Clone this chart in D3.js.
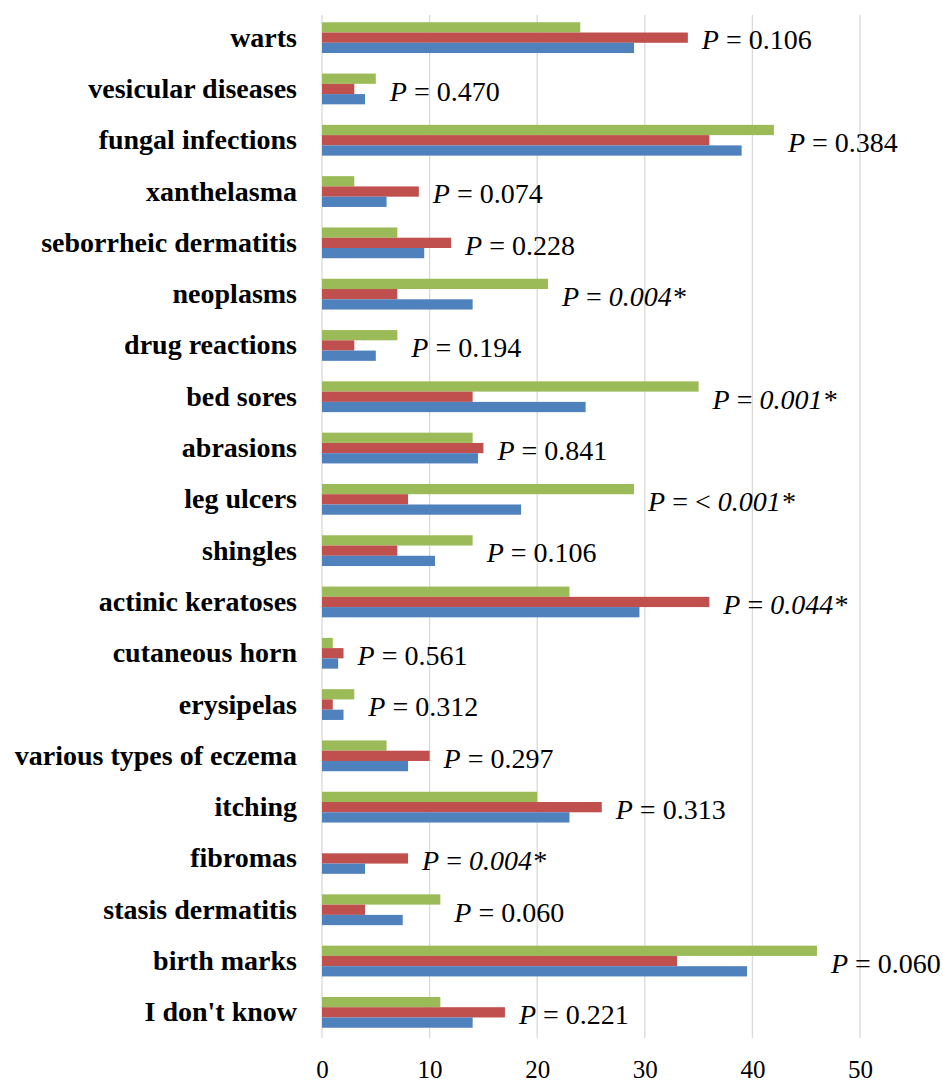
<!DOCTYPE html>
<html>
<head>
<meta charset="utf-8">
<script src="https://cdn.jsdelivr.net/npm/d3@7"></script>
<style>
body { margin: 0; background: #fff; }
svg text { font-family: "Liberation Serif", "Times New Roman", serif; }
</style>
</head>
<body>
<svg id="chart" width="943" height="1084"></svg>
<script>
var categories = ["warts", "vesicular diseases", "fungal infections", "xanthelasma",
    "seborrheic dermatitis", "neoplasms", "drug reactions", "bed sores", "abrasions",
    "leg ulcers", "shingles", "actinic keratoses", "cutaneous horn", "erysipelas",
    "various types of eczema", "itching", "fibromas", "stasis dermatitis",
    "birth marks", "I don't know"];

// three groups, drawn top to bottom: green, red, blue
var greenValues = [24, 5, 42, 3, 7, 21, 7, 35, 14, 29, 14, 23, 1, 3, 6, 20, 0, 11, 46, 11];
var redValues   = [34, 3, 36, 9, 12, 7, 3, 14, 15, 8, 7, 36, 2, 1, 10, 26, 8, 4, 33, 17];
var blueValues  = [29, 4, 39, 6, 9.5, 14, 5, 24.5, 14.5, 18.5, 10.5, 29.5, 1.5, 2, 8, 23, 4, 7.5, 39.5, 14];

var pLabels = ["0.106", "0.470", "0.384", "0.074", "0.228", "0.004*", "0.194", "0.001*",
    "0.841", "< 0.001*", "0.106", "0.044*", "0.561", "0.312", "0.297", "0.313",
    "0.004*", "0.060", "0.060", "0.221"];

var xTicks = [0, 10, 20, 30, 40, 50];

var series = [
    {key: "green", color: "#9BBB59", values: greenValues},
    {key: "red", color: "#C0504D", values: redValues},
    {key: "blue", color: "#4F81BD", values: blueValues}
];

var svg = d3.select("#chart");

var x = d3.scaleLinear().domain([0, 50]).range([322, 860]);
var y = d3.scaleBand().domain(categories).range([12, 1038]).paddingInner(0.4).paddingOuter(0.2);
var ySub = d3.scaleBand().domain(series.map(function(s) { return s.key; })).range([0, y.bandwidth()]);

// grid lines
svg.append("g")
    .selectAll("line")
    .data(xTicks)
    .enter().append("line")
    .attr("x1", function(d) { return x(d); })
    .attr("x2", function(d) { return x(d); })
    .attr("y1", 15)
    .attr("y2", 1038)
    .attr("stroke", "#d9d9d9")
    .attr("stroke-width", 1.3);

// bottom tick labels
var xAxis = d3.axisBottom(x).tickValues(xTicks).tickSize(0).tickPadding(0);
var gx = svg.append("g").attr("transform", "translate(0,1060)").call(xAxis);
gx.select(".domain").remove();
gx.selectAll("text")
    .attr("font-family", "Liberation Serif")
    .attr("font-size", 25)
    .attr("fill", "#000")
    .attr("dy", "0.7em");

// category labels
var yAxis = d3.axisLeft(y).tickSize(0).tickPadding(0);
var gy = svg.append("g").attr("transform", "translate(297,0)").call(yAxis);
gy.select(".domain").remove();
gy.selectAll("text")
    .attr("font-family", "Liberation Serif")
    .attr("font-size", 28)
    .attr("font-weight", "bold")
    .attr("fill", "#000");

// bars
var groups = svg.append("g")
    .selectAll("g")
    .data(categories)
    .enter().append("g")
    .attr("transform", function(d) { return "translate(0," + y(d) + ")"; });

groups.selectAll("rect")
    .data(function(d, i) {
        return series.map(function(s) { return {key: s.key, color: s.color, value: s.values[i]}; });
    })
    .enter().append("rect")
    .filter(function(d) { return d.value > 0; })
    .attr("x", x(0))
    .attr("y", function(d) { return ySub(d.key); })
    .attr("width", function(d) { return x(d.value) - x(0); })
    .attr("height", ySub.bandwidth())
    .attr("fill", function(d) { return d.color; });

// P value labels
groups.each(function(cat, i) {
    var maxVal = Math.max(greenValues[i], redValues[i], blueValues[i]);
    var lbl = pLabels[i];
    var sig = lbl.indexOf("*") >= 0;
    var prefix = "";
    if (lbl.indexOf("< ") == 0) {
        prefix = "< ";
        lbl = lbl.substring(2);
    }
    var t = d3.select(this).append("text")
        .attr("x", x(maxVal) + 14)
        .attr("y", y.bandwidth() / 2 + 2)
        .attr("dy", "0.35em")
        .attr("font-size", 28)
        .attr("fill", "#000");
    t.append("tspan").attr("font-style", "italic").text("P");
    t.append("tspan").text(" = " + prefix);
    t.append("tspan").attr("font-style", sig ? "italic" : "normal").text(lbl);
});
</script>
</body>
</html>
